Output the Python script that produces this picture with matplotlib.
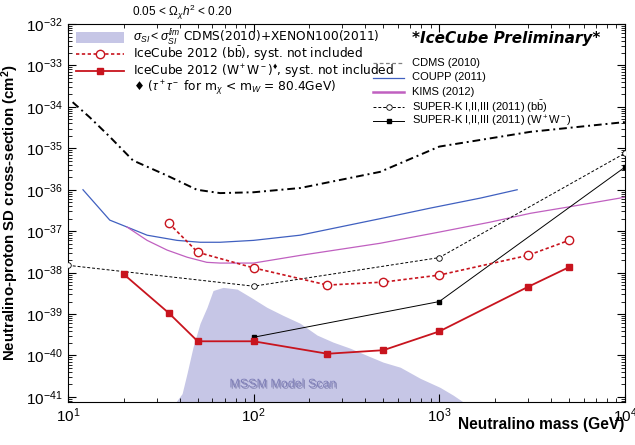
import matplotlib
matplotlib.use("Agg")
import matplotlib.pyplot as plt
from matplotlib.lines import Line2D
from matplotlib.patches import Rectangle
from matplotlib.ticker import LogLocator, NullFormatter
import matplotlib.patheffects as pe

plt.rcParams["font.family"] = ["Liberation Sans", "DejaVu Sans"]
plt.rcParams["mathtext.fontset"] = "custom"
plt.rcParams["mathtext.rm"] = "Liberation Sans"
plt.rcParams["mathtext.it"] = "Liberation Sans:italic"
plt.rcParams["mathtext.bf"] = "Liberation Sans:bold"
plt.rcParams["mathtext.fallback"] = "stixsans"

# data (mass in GeV, cross-section in cm^2)
cdms_m = [10.6, 13.1, 16.8, 22.4, 34.2, 49.5, 66, 100, 178, 480, 1000, 3100, 10000]
cdms_s = [1.3e-34, 5.6e-35, 1.9e-35, 5.1e-36, 2.2e-36, 1.0e-36, 8.3e-37, 8.7e-37,
          1.1e-36, 2.7e-36, 1.1e-35, 2.5e-35, 4.3e-35]

coupp_m = [12.05, 16.8, 20.8, 26.7, 38.7, 51.5, 66, 100, 178, 480, 894, 1670, 2630]
coupp_s = [1.0e-36, 1.85e-37, 1.26e-37, 8.0e-38, 6.0e-38, 5.4e-38, 5.4e-38, 6.0e-38,
           8.0e-38, 2.0e-37, 3.6e-37, 6.3e-37, 1.0e-36]

kims_m = [20.8, 26.7, 34.2, 43.9, 56, 66, 100, 178, 480, 1000, 1880, 3100, 4900, 10000]
kims_s = [1.26e-37, 6.0e-38, 3.5e-38, 2.35e-38, 1.77e-38, 1.7e-38, 1.7e-38, 2.6e-38,
          5.1e-38, 9.5e-38, 1.65e-37, 2.7e-37, 3.8e-37, 6.6e-37]

skbb_m = [10, 100, 1000, 10000]
skbb_s = [1.5e-38, 4.7e-39, 2.3e-38, 7.6e-36]

skww_m = [100, 1000, 10000]
skww_s = [2.75e-40, 2.0e-39, 3.5e-36]

icbb_m = [35, 50, 100, 250, 500, 1000, 3000, 5000]
icbb_s = [1.55e-37, 3.1e-38, 1.3e-38, 5.0e-39, 5.9e-39, 8.7e-39, 2.6e-38, 6.0e-38]

icww_m = [20, 35, 50, 100, 250, 500, 1000, 3000, 5000]
icww_s = [9.1e-39, 1.05e-39, 2.2e-40, 2.2e-40, 1.1e-40, 1.34e-40, 3.8e-40, 4.5e-39, 1.35e-38]

mssm_m = [37.7, 41.2, 43.8, 47.2, 51.5, 56.1, 60.5, 68.5, 81.5, 95.7, 118, 144, 178,
          220, 268, 331, 409, 499, 617, 791, 1010, 1190, 1380]
mssm_s = [7e-42, 1.2e-41, 3.7e-41, 1.6e-40, 6.0e-40, 1.45e-39, 3.7e-39, 4.4e-39,
          4.0e-39, 2.6e-39, 1.45e-39, 9.3e-40, 6.0e-40, 3.1e-40, 2.1e-40, 1.5e-40,
          1.0e-40, 6.9e-41, 5.2e-41, 2.8e-41, 1.7e-41, 1.1e-41, 7e-42]

left_labels = [
    "$\\sigma_{SI} < \\sigma_{SI}^{lim}$ CDMS(2010)+XENON100(2011)",
    "IceCube 2012 (b$\\bar{\\mathrm{b}}$), syst. not included",
    "IceCube 2012 (W$^+$W$^-$)$^{\u2666}$, syst. not included",
    "\u2666 ($\\tau^+\\tau^-$ for m$_\\chi$ < m$_W$ = 80.4GeV)",
]
right_labels = [
    "CDMS (2010)",
    "COUPP (2011)",
    "KIMS (2012)",
    "SUPER-K I,II,III (2011) (b$\\bar{\\mathrm{b}}$)",
    "SUPER-K I,II,III (2011) (W$^+$W$^-$)",
]

RED = "#c8141e"
BLUE = "#4060c0"
MAGENTA = "#c060c0"
LAVENDER = "#c6c6e6"
W, H = 635, 445

fig = plt.figure(figsize=(6.35, 4.45), dpi=100)
ax = fig.add_axes([0.107, 0.097, 0.877, 0.849])
ax.set_xscale("log")
ax.set_yscale("log")
ax.set_xlim(10, 1e4)
ax.set_ylim(7.6e-42, 1e-32)
ax.yaxis.set_major_locator(LogLocator(base=10, numticks=20))
ax.yaxis.set_minor_locator(LogLocator(base=10, subs=range(2, 10), numticks=20))
ax.yaxis.set_minor_formatter(NullFormatter())

ax.fill_between(mssm_m, 7e-42, mssm_s, color=LAVENDER, lw=0, zorder=1)
ax.text(144, 2.0e-41, "MSSM Model Scan", color="#8080b8", fontsize=9,
        ha="center", va="center", zorder=2,
        path_effects=[pe.withSimplePatchShadow(offset=(1, -1), shadow_rgbFace="#505088",
                                               alpha=0.45)])

styles = {
    "cdms": dict(color="k", lw=1.4, ls=(0, (4, 2, 1, 2))),
    "coupp": dict(color=BLUE, lw=0.9),
    "kims": dict(color=MAGENTA, lw=0.9),
    "skbb": dict(color="k", lw=0.7, ls=(0, (3, 2)), marker="o", ms=4, mfc="white",
                 mec="k", mew=0.6),
    "skww": dict(color="k", lw=0.7, marker="s", ms=3.5),
    "icbb": dict(color=RED, lw=1.2, ls=(0, (2, 1.5)), marker="o", ms=6, mfc="white",
                 mec=RED, mew=1.0),
    "icww": dict(color=RED, lw=1.3, marker="s", ms=5),
}

ax.plot(cdms_m, cdms_s, zorder=3, **styles["cdms"])
ax.plot(coupp_m, coupp_s, zorder=3, **styles["coupp"])
ax.plot(kims_m, kims_s, zorder=3, **styles["kims"])
ax.plot(skbb_m, skbb_s, zorder=4, **styles["skbb"])
ax.plot(skww_m, skww_s, zorder=4, **styles["skww"])
ax.plot(icbb_m, icbb_s, zorder=5, **styles["icbb"])
ax.plot(icww_m, icww_s, zorder=5, **styles["icww"])

ax.tick_params(which="both", direction="in", top=True, right=True, labelsize=11)
ax.tick_params(which="major", length=6)
ax.tick_params(which="minor", length=3)
ax.set_xlabel("Neutralino mass (GeV)", loc="right", fontsize=11.2, fontweight="bold",
              labelpad=-6)
ax.set_ylabel("Neutralino-proton SD cross-section (cm$^\\mathbf{2}$)", fontsize=10.8,
              fontweight="bold", labelpad=4)

fig.text(132 / W, 1 - 12 / H, "0.05 < $\\Omega_\\chi h^2$ < 0.20", fontsize=8.5,
         ha="left", va="center")
fig.text(506 / W, 1 - 38 / H, "*IceCube Preliminary*", fontsize=11, family="DejaVu Sans",
         fontweight="bold", style="italic", ha="center", va="center")


def key_row(x0, x1, y, xt, label, style, fontsize, family):
    # one legend row drawn in figure pixels
    fy = 1 - y / H
    line_kw = {k: v for k, v in style.items() if k not in ("marker", "ms", "mfc", "mec", "mew")}
    fig.add_artist(Line2D([x0 / W, x1 / W], [fy, fy], transform=fig.transFigure, **line_kw))
    if "marker" in style:
        fig.add_artist(Line2D([(x0 + x1) / 2 / W], [fy], transform=fig.transFigure,
                              lw=0, marker=style["marker"], ms=style["ms"],
                              mfc=style.get("mfc", style["color"]),
                              mec=style.get("mec", style["color"]),
                              mew=style.get("mew", 1.0)))
    fig.text(xt / W, fy, label, fontsize=fontsize, family=family, ha="left", va="center")


# left key
fig.add_artist(Rectangle((76 / W, 1 - 43 / H), 48 / W, 11 / H, transform=fig.transFigure,
                         facecolor=LAVENDER, edgecolor="none"))
fig.text(133 / W, 1 - 37.5 / H, left_labels[0], fontsize=8.8, family="DejaVu Sans",
         ha="left", va="center")
key_row(76, 124, 53.5, 133, left_labels[1], styles["icbb"], 8.8, "DejaVu Sans")
key_row(76, 124, 71, 133, left_labels[2], styles["icww"], 8.8, "DejaVu Sans")
fig.text(133 / W, 1 - 88 / H, left_labels[3], fontsize=8.8, family="DejaVu Sans",
         ha="left", va="center")

# right key
right_styles = [dict(color="grey", lw=0.9, ls=(0, (3, 2))), styles["coupp"],
                dict(color=MAGENTA, lw=1.8), styles["skbb"], styles["skww"]]
for i, (lab, st) in enumerate(zip(right_labels, right_styles)):
    key_row(373, 404, 63 + 14.5 * i, 412, lab, st, 8, ["Liberation Sans", "DejaVu Sans"])

fig.savefig("out.png", dpi=100)
